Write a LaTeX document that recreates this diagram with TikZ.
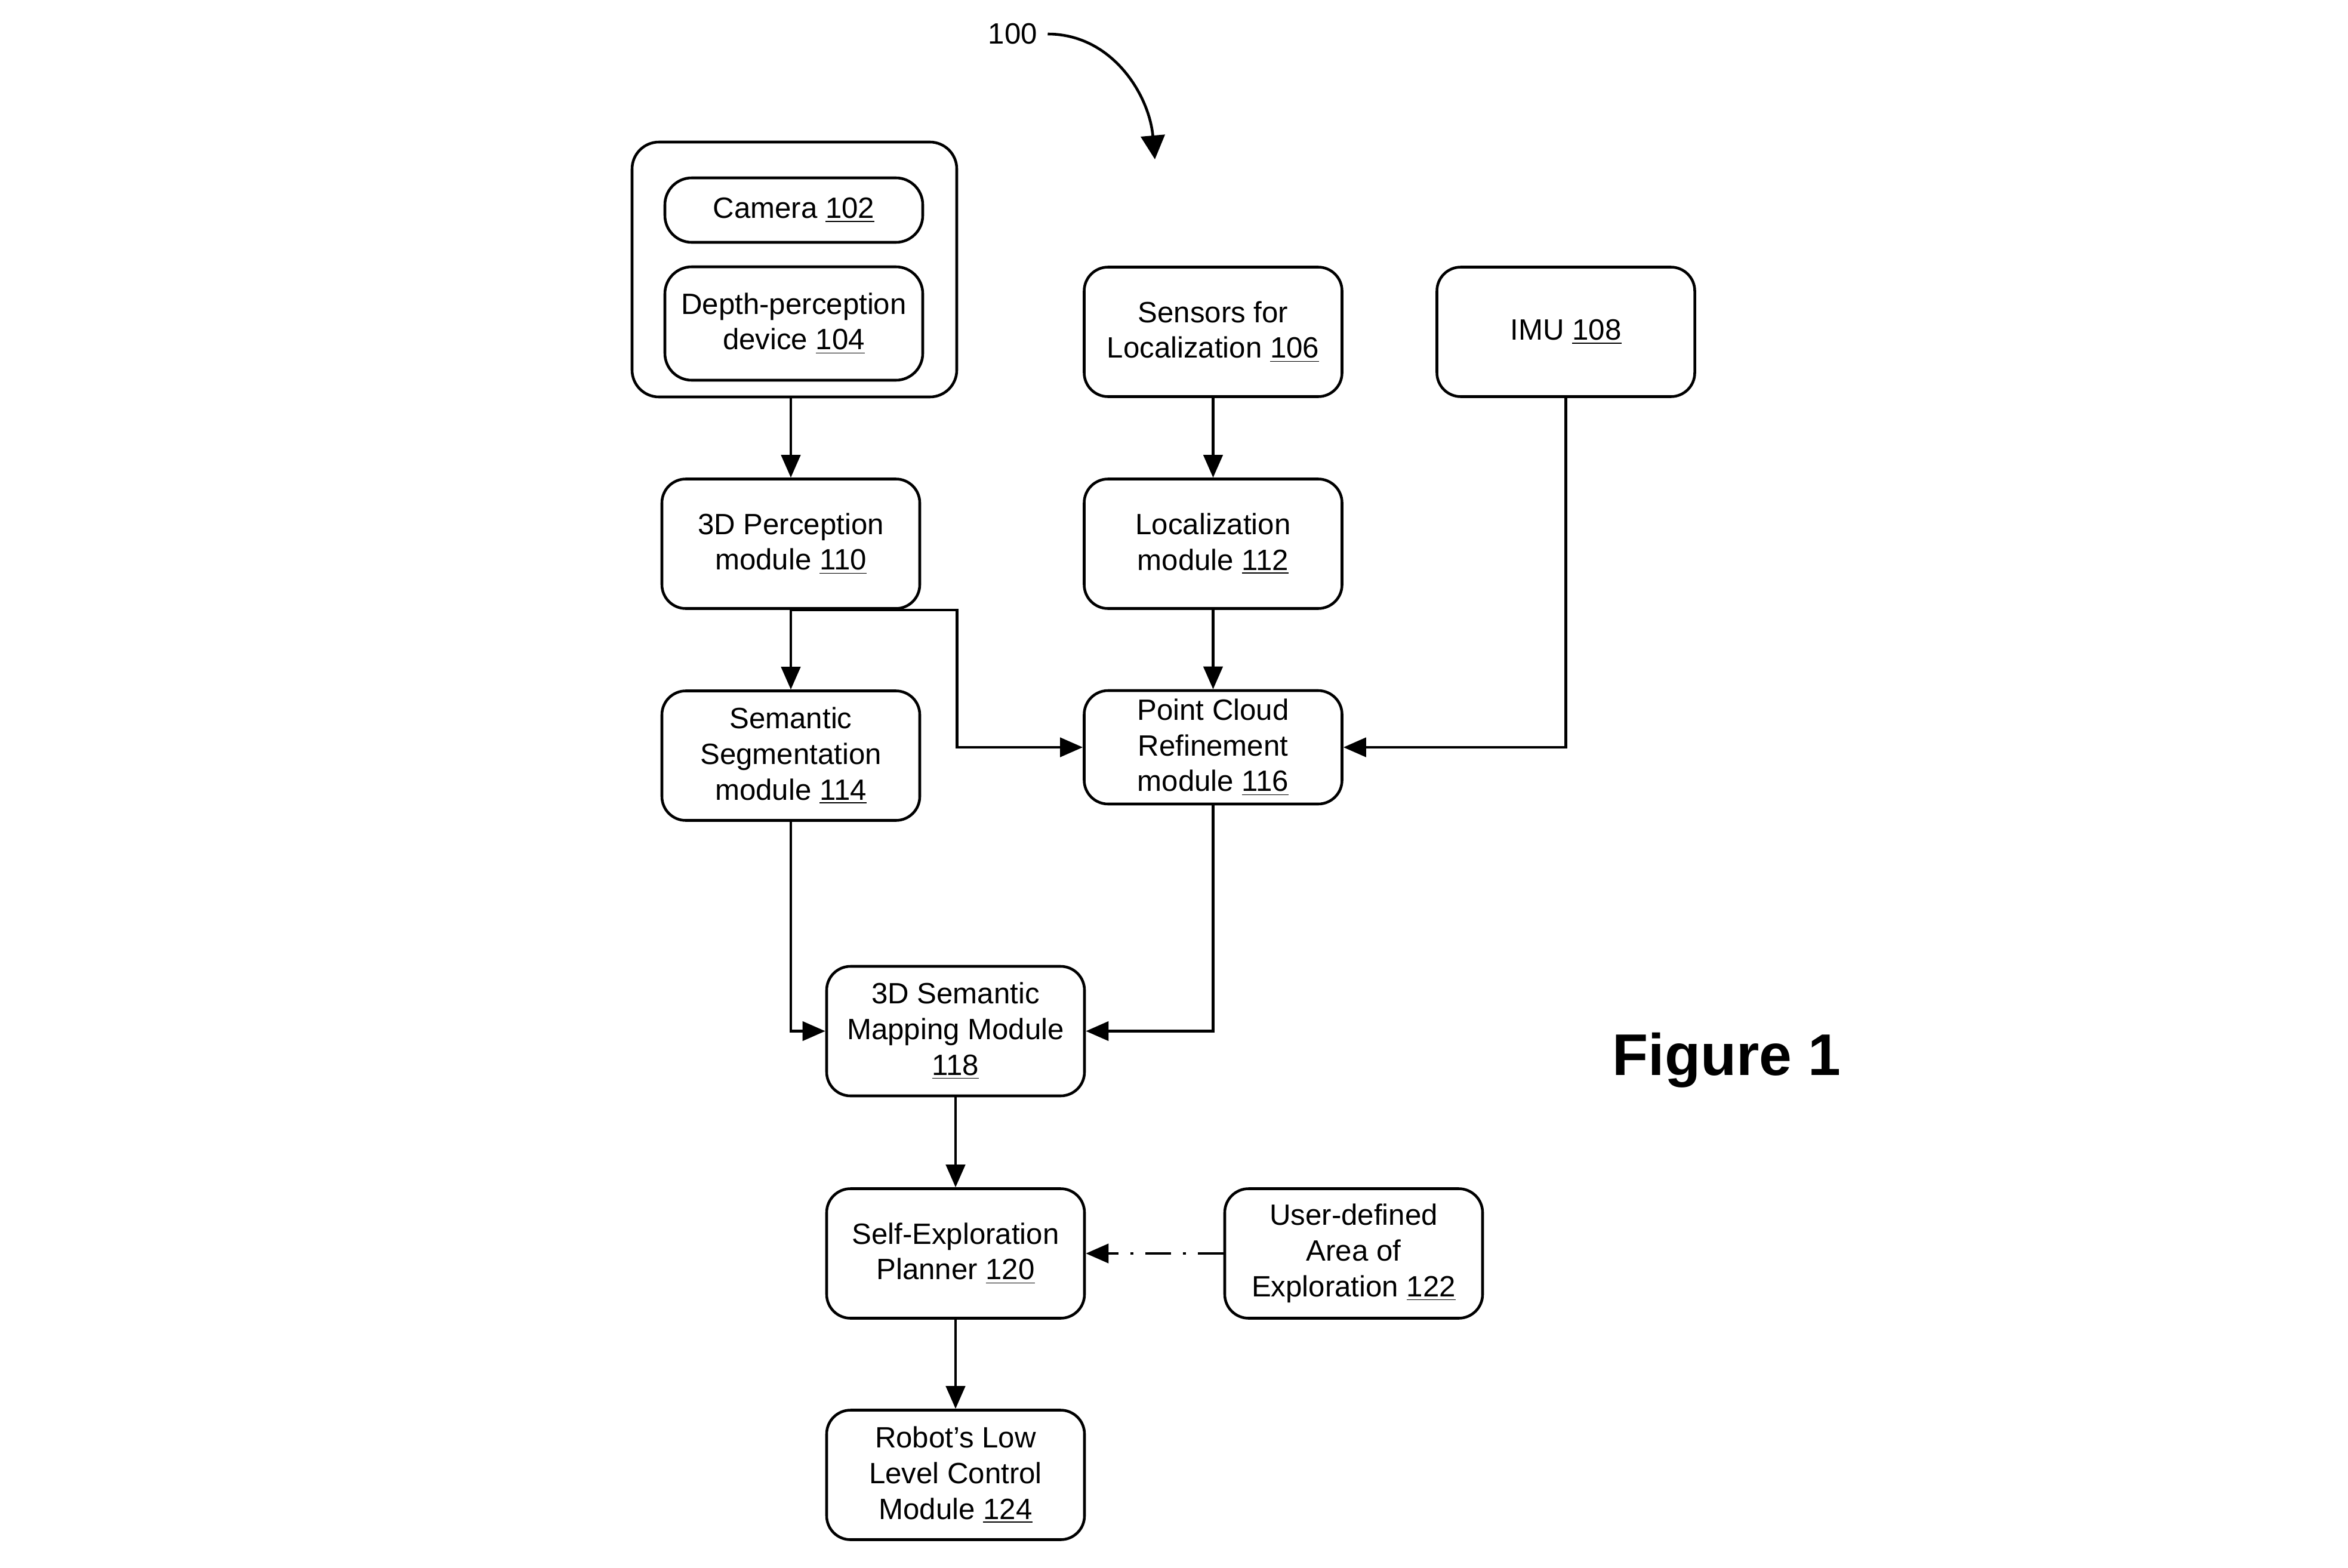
\documentclass[tikz,border=0pt]{standalone}
\usepackage{fontspec}
\setmainfont{Liberation Sans}
\usetikzlibrary{arrows.meta}

\begin{document}
\begin{tikzpicture}[
  box/.style={draw,line width=1.3pt,rounded corners=0.4cm,align=center,inner sep=0pt,
    minimum width=4.32cm,minimum height=2.17cm,font=\fontsize{14}{17}\selectfont},
  groupbox/.style={draw,line width=1.3pt,rounded corners=0.45cm,minimum width=5.44cm,minimum height=4.27cm},
  arr/.style={line width=1.3pt,-{Triangle[length=0.38cm,width=0.32cm]}},
  dashdot/.style={dash pattern=on 0.43cm off 0.2cm on 0.05cm off 0.2cm}]
\useasboundingbox (0,0) rectangle (39.34,-26.27);

\node[font=\fontsize{14}{17}\selectfont] (l100) at (16.97,-0.57) {100};
\coordinate (tip100) at (19.35,-2.67);
\draw[line width=1.3pt,-{Triangle[length=0.4cm,width=0.4cm]}] ([xshift=0.05cm]l100.east) to[out=0,in=95] (tip100);

\node[groupbox] (sensors) at (13.31,-4.515) {};
\node[box,minimum height=1.08cm,rounded corners=0.45cm] (cam) at (13.30,-3.52) {Camera \underline{102}};
\node[box,minimum height=1.90cm,rounded corners=0.45cm] (depth) at (13.30,-5.42) {Depth-perception\\device \underline{104}};
\node[box] (s106) at (20.325,-5.56) {Sensors for\\Localization \underline{106}};
\node[box] (imu) at (26.235,-5.56) {IMU \underline{108}};
\node[box] (p110) at (13.25,-9.11) {3D Perception\\module \underline{110}};
\node[box] (loc) at (20.325,-9.11) {Localization\\module \underline{112}};
\node[box] (seg) at (13.25,-12.66) {Semantic\\Segmentation\\module \underline{114}};
\node[box,minimum height=1.90cm] (pc) at (20.325,-12.52) {Point Cloud\\Refinement\\module \underline{116}};
\node[box] (map) at (16.01,-17.275) {3D Semantic\\Mapping Module\\\underline{118}};
\node[box] (plan) at (16.01,-21.00) {Self-Exploration\\Planner \underline{120}};
\node[box] (area) at (22.68,-21.00) {User-defined\\Area of\\Exploration \underline{122}};
\node[box] (ctrl) at (16.01,-24.71) {Robot’s Low\\Level Control\\Module \underline{124}};

\node[font=\bfseries\fontsize{28}{34}\selectfont] (fig) at (28.93,-17.76) {Figure 1};

\draw[arr] (p110.north |- sensors.south) -- (p110.north);
\draw[arr] (s106) -- (loc);
\draw[arr] (loc) -- (pc);
\draw[arr] (p110) -- (seg);
\draw[arr] (p110.south) -- ([xshift=0.6cm]p110.south east) |- (pc.west);
\draw[arr] (imu.south) |- (pc.east);
\draw[arr] (seg.south) |- (map.west);
\draw[arr] (pc.south) |- (map.east);
\draw[arr] (map) -- (plan);
\draw[arr] (plan) -- (ctrl);
\draw[arr,dashdot] (area.west) -- (plan.east);
\end{tikzpicture}
\end{document}
